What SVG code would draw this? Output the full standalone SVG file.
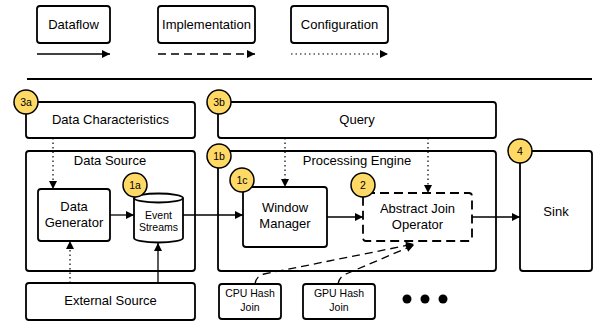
<svg xmlns="http://www.w3.org/2000/svg" width="600" height="324" viewBox="0 0 600 324">
<style>
.box{fill:#fff;stroke:#000;stroke-width:1.8}
.dbox{fill:#fff;stroke:#000;stroke-width:1.8;stroke-dasharray:9,5}
.t{font-family:"Liberation Sans",Arial,sans-serif;font-size:13px;fill:#000;text-anchor:middle}
.s{font-family:"Liberation Sans",Arial,sans-serif;font-size:10.5px;fill:#000;text-anchor:middle}
.badge circle{fill:#FFD966;stroke:#000;stroke-width:1.5}
.badge text{font-family:"Liberation Sans",Arial,sans-serif;font-size:10.5px;fill:#000;text-anchor:middle}
.flow{fill:none;stroke:#000;stroke-width:1.3}
.impl{fill:none;stroke:#000;stroke-width:1.3;stroke-dasharray:8,5}
.conf{fill:none;stroke:#000;stroke-width:1.2;stroke-dasharray:1.5,3}
</style>
<defs>
<marker id="ah" viewBox="0 0 10 10" refX="10" refY="5" markerWidth="10" markerHeight="8" markerUnits="userSpaceOnUse" orient="auto">
<path d="M0,0 L10,5 L0,10 z" fill="#000"/>
</marker>
</defs>
<g id="legend">
<rect class="box" x="37" y="6" width="73" height="37" rx="3"/>
<text class="t" x="73.5" y="29">Dataflow</text>
<rect class="box" x="158" y="6" width="97" height="37" rx="3"/>
<text class="t" x="206.5" y="29">Implementation</text>
<rect class="box" x="291" y="6" width="97" height="37" rx="3"/>
<text class="t" x="339.5" y="29">Configuration</text>
<line class="flow" x1="37" y1="54" x2="110" y2="54" marker-end="url(#ah)"/>
<line class="impl" x1="158" y1="54" x2="255" y2="54" marker-end="url(#ah)"/>
<line class="conf" x1="291" y1="54" x2="388" y2="54" marker-end="url(#ah)"/>
<line x1="27" y1="79" x2="592" y2="79" stroke="#000" stroke-width="2"/>
</g>
<g id="data-characteristics">
<rect class="box" x="26" y="102" width="169" height="36" rx="3"/>
<text class="t" x="110.5" y="124">Data Characteristics</text>
</g>
<g id="data-source">
<rect class="box" x="26" y="151" width="169" height="120" rx="3"/>
<text class="t" x="110" y="165">Data Source</text>
</g>
<g id="data-generator">
<rect class="box" x="38" y="189" width="72" height="52" rx="3"/>
<text class="t" x="74" y="211">Data</text>
<text class="t" x="74" y="227">Generator</text>
</g>
<g id="event-streams">
<path d="M134,198 L134,238 A24.5,4.5 0 0 0 183,238 L183,198" fill="#fff" stroke="#000" stroke-width="1.8"/>
<ellipse cx="158.5" cy="198" rx="24.5" ry="4.5" fill="#fff" stroke="#000" stroke-width="1.8"/>
<text class="s" x="158.5" y="219">Event</text>
<text class="s" x="158.5" y="231">Streams</text>
</g>
<g id="external-source">
<rect class="box" x="26" y="283" width="169" height="37" rx="3"/>
<text class="t" x="110.5" y="305">External Source</text>
</g>
<g id="query">
<rect class="box" x="218" y="102" width="278" height="36" rx="3"/>
<text class="t" x="357" y="124">Query</text>
</g>
<g id="processing-engine">
<rect class="box" x="218" y="151" width="278" height="120" rx="3"/>
<text class="t" x="357" y="165">Processing Engine</text>
</g>
<g id="window-manager">
<rect class="box" x="243" y="187" width="84" height="60" rx="3"/>
<text class="t" x="285" y="212">Window</text>
<text class="t" x="285" y="228">Manager</text>
</g>
<g id="abstract-join-operator">
<rect class="dbox" x="363" y="193" width="109" height="48" rx="3"/>
<text class="t" x="417.5" y="213">Abstract Join</text>
<text class="t" x="417.5" y="229">Operator</text>
</g>
<g id="sink">
<rect class="box" x="520" y="151" width="72" height="120" rx="3"/>
<text class="t" x="556" y="216">Sink</text>
</g>
<g id="cpu-hash-join">
<rect class="box" x="219" y="284" width="62" height="35" rx="3"/>
<text class="s" x="250" y="297">CPU Hash</text>
<text class="s" x="250" y="311">Join</text>
</g>
<g id="gpu-hash-join">
<rect class="box" x="303" y="284" width="72" height="35" rx="3"/>
<text class="s" x="339" y="297">GPU Hash</text>
<text class="s" x="339" y="311">Join</text>
</g>
<g id="ellipsis">
<circle cx="407" cy="299" r="4.5" fill="#000"/>
<circle cx="425" cy="299" r="4.5" fill="#000"/>
<circle cx="443" cy="299" r="4.5" fill="#000"/>
</g>
<g id="connectors">
<line class="conf" x1="53" y1="138" x2="53" y2="189" marker-end="url(#ah)"/>
<line class="conf" x1="70" y1="283" x2="70" y2="241" marker-end="url(#ah)"/>
<line class="flow" x1="158" y1="283" x2="158" y2="243" marker-end="url(#ah)"/>
<line class="flow" x1="110" y1="215" x2="134" y2="215" marker-end="url(#ah)"/>
<line class="flow" x1="183" y1="215" x2="243" y2="215" marker-end="url(#ah)"/>
<line class="flow" x1="327" y1="217" x2="363" y2="217" marker-end="url(#ah)"/>
<line class="flow" x1="472" y1="217" x2="520" y2="217" marker-end="url(#ah)"/>
<line class="conf" x1="285" y1="138" x2="285" y2="187" marker-end="url(#ah)"/>
<line class="conf" x1="428" y1="138" x2="428" y2="193" marker-end="url(#ah)"/>
<path class="impl" d="M255,284 Q256,276 264,274 L414,244" marker-end="url(#ah)"/>
<path class="impl" d="M338,284 Q339,277 346,274 L414,245" marker-end="url(#ah)"/>
</g>
<g id="badges">
<g class="badge"><circle cx="26" cy="102" r="12"/><text x="26" y="106">3a</text></g>
<g class="badge"><circle cx="219" cy="102" r="12"/><text x="219" y="106">3b</text></g>
<g class="badge"><circle cx="219" cy="156" r="12"/><text x="219" y="160">1b</text></g>
<g class="badge"><circle cx="242" cy="180" r="12"/><text x="242" y="184">1c</text></g>
<g class="badge"><circle cx="135" cy="185" r="12"/><text x="135" y="189">1a</text></g>
<g class="badge"><circle cx="363" cy="185" r="12"/><text x="363" y="189">2</text></g>
<g class="badge"><circle cx="520" cy="151" r="12"/><text x="520" y="155">4</text></g>
</g>
</svg>
